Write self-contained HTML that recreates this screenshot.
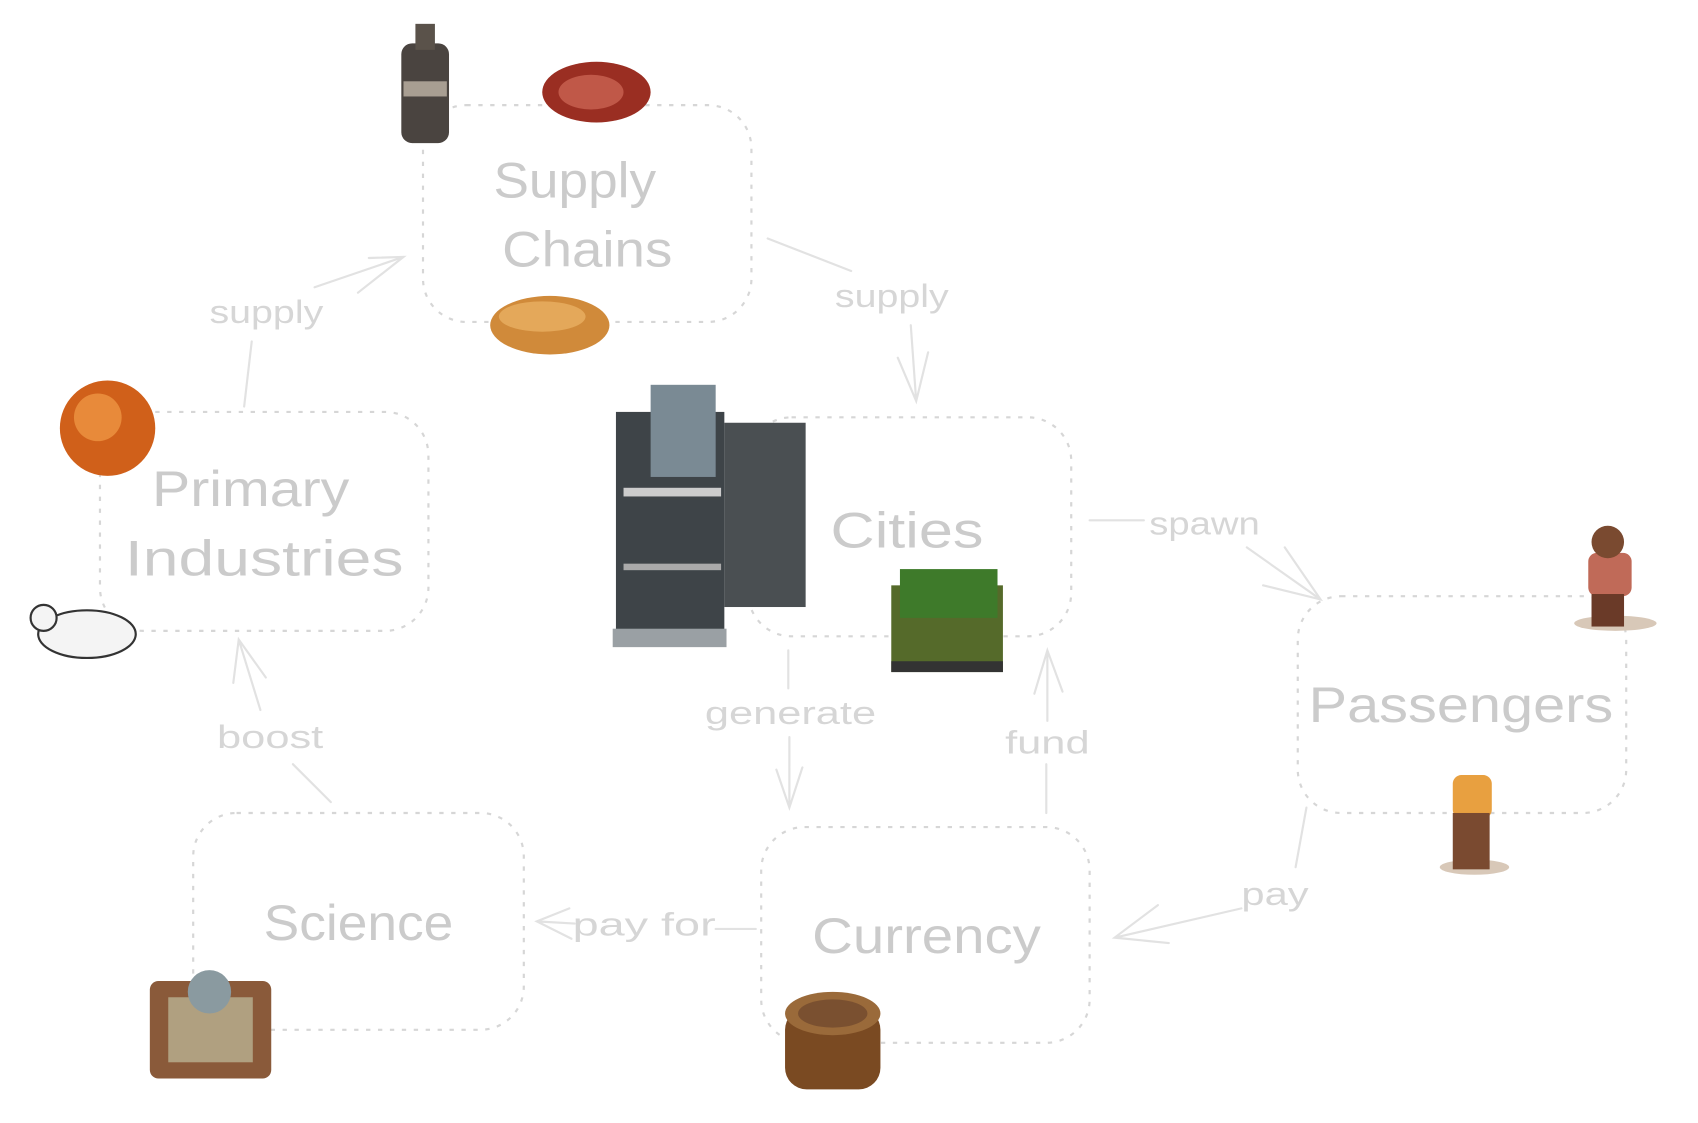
<!DOCTYPE html>
<html><head><meta charset="utf-8"><style>
html,body{margin:0;padding:0;background:#fff;}
svg{display:block;}
.t{font-family:"Liberation Sans",sans-serif;fill:#cbcbcb;text-anchor:middle;}
.b{fill:none;stroke:#d6d6d6;stroke-width:2;stroke-dasharray:4 7;}
.l{fill:none;stroke:#e2e2e2;stroke-width:2;stroke-linecap:round;}
</style></head><body>
<svg width="1698" height="1123" viewBox="0 0 1566 1036" xmlns="http://www.w3.org/2000/svg">
<rect width="1566" height="1036" fill="#fff"/>
<rect class="b" x="390" y="97" width="303" height="200" rx="40"/>
<rect class="b" x="92" y="380" width="303" height="202" rx="40"/>
<rect class="b" x="690" y="385" width="298" height="202" rx="40"/>
<rect class="b" x="1197" y="550" width="303" height="200" rx="40"/>
<rect class="b" x="178" y="750" width="305" height="200" rx="40"/>
<rect class="b" x="702" y="763" width="303" height="199" rx="40"/>
<g class="t" font-size="46" style="text-anchor:start" lengthAdjust="spacingAndGlyphs">
<text x="455" y="182" textLength="150" lengthAdjust="spacingAndGlyphs">Supply</text>
<text x="463" y="246" textLength="157" lengthAdjust="spacingAndGlyphs">Chains</text>
<text x="140" y="467" textLength="182" lengthAdjust="spacingAndGlyphs">Primary</text>
<text x="115" y="531" textLength="257" lengthAdjust="spacingAndGlyphs">Industries</text>
<text x="766" y="505" textLength="141" lengthAdjust="spacingAndGlyphs">Cities</text>
<text x="1207" y="666" textLength="281" lengthAdjust="spacingAndGlyphs">Passengers</text>
<text x="243" y="867" textLength="175" lengthAdjust="spacingAndGlyphs">Science</text>
<text x="749" y="879" textLength="211" lengthAdjust="spacingAndGlyphs">Currency</text>
</g>
<g class="l">
<path d="M225 375 L232 315"/><path d="M290 265 L372 237 M340 238 L372 237 L330 270"/>
<path d="M708 220 L785 250"/><path d="M840 300 L845 370 M828 330 L845 370 L856 325"/>
<path d="M1005 480 L1055 480"/><path d="M1150 505 L1218 553 M1185 505 L1218 553 L1165 540"/>
<path d="M727 600 L727 635"/><path d="M728 680 L728 745 M716 710 L728 745 L740 708"/>
<path d="M965 750 L965 705"/><path d="M966 665 L966 600 M954 640 L966 600 L980 638"/>
<path d="M305 740 L270 705"/><path d="M240 655 L220 590 M215 630 L220 590 L245 625"/>
<path d="M697 857 L660 857"/><path d="M530 852 L495 850 M525 838 L495 850 L527 866"/>
<path d="M1205 745 L1195 800"/><path d="M1145 838 L1028 865 M1068 835 L1028 865 L1078 870"/>
</g>
<g class="t" font-size="30" style="fill:#d6d6d6;text-anchor:start">
<text x="193" y="298" textLength="105" lengthAdjust="spacingAndGlyphs">supply</text>
<text x="770" y="283" textLength="105" lengthAdjust="spacingAndGlyphs">supply</text>
<text x="1060" y="493" textLength="102" lengthAdjust="spacingAndGlyphs">spawn</text>
<text x="650" y="668" textLength="158" lengthAdjust="spacingAndGlyphs">generate</text>
<text x="927" y="695" textLength="78" lengthAdjust="spacingAndGlyphs">fund</text>
<text x="200" y="690" textLength="98" lengthAdjust="spacingAndGlyphs">boost</text>
<text x="528" y="863" textLength="132" lengthAdjust="spacingAndGlyphs">pay for</text>
<text x="1145" y="835" textLength="62" lengthAdjust="spacingAndGlyphs">pay</text>
</g>
<rect x="370" y="40" width="44" height="92" rx="10" fill="#4a4440"/><rect x="383" y="22" width="18" height="24" fill="#5a524a"/><rect x="372" y="75" width="40" height="14" fill="#a89e92"/>
<ellipse cx="550" cy="85" rx="50" ry="28" fill="#9a2e22"/><ellipse cx="545" cy="85" rx="30" ry="16" fill="#c05848"/>
<ellipse cx="507" cy="300" rx="55" ry="27" fill="#d08a3a"/><ellipse cx="500" cy="292" rx="40" ry="14" fill="#e4a85a"/>
<circle cx="99" cy="395" r="44" fill="#d0601a"/><circle cx="90" cy="385" r="22" fill="#e88a3a"/>
<ellipse cx="80" cy="585" rx="45" ry="22" fill="#f4f4f4" stroke="#333" stroke-width="2"/><circle cx="40" cy="570" r="12" fill="#f4f4f4" stroke="#333" stroke-width="2"/>
<g>
<rect x="568" y="380" width="100" height="215" fill="#3e4448"/><rect x="668" y="390" width="75" height="170" fill="#4a4f52"/>
<rect x="600" y="355" width="60" height="85" fill="#7a8a94"/><rect x="565" y="580" width="105" height="17" fill="#9aa0a4"/>
<rect x="575" y="450" width="90" height="8" fill="#ccc"/><rect x="575" y="520" width="90" height="6" fill="#aaa"/>
</g>
<rect x="822" y="540" width="103" height="80" fill="#556a2a"/><rect x="830" y="525" width="90" height="45" fill="#3e7a2a"/><rect x="822" y="610" width="103" height="10" fill="#333"/>
<ellipse cx="1490" cy="575" rx="38" ry="7" fill="#d8c8b8"/><rect x="1465" y="510" width="40" height="40" rx="8" fill="#c06a58"/><circle cx="1483" cy="500" r="15" fill="#7a4a30"/><rect x="1468" y="548" width="30" height="30" fill="#6a3a28"/>
<ellipse cx="1360" cy="800" rx="32" ry="7" fill="#d8c8b8"/><rect x="1340" y="715" width="36" height="40" rx="8" fill="#e8a040"/><rect x="1340" y="750" width="34" height="52" fill="#7a4a30"/>
<rect x="138" y="905" width="112" height="90" rx="8" fill="#8a5a3a"/><rect x="155" y="920" width="78" height="60" fill="#b0a080"/><circle cx="193" cy="915" r="20" fill="#8a9aa0"/>
<rect x="724" y="930" width="88" height="75" rx="20" fill="#7a4a22"/><ellipse cx="768" cy="935" rx="44" ry="20" fill="#9a6a3a"/><ellipse cx="768" cy="935" rx="32" ry="13" fill="#7a5030"/>
</svg>
</body></html>
